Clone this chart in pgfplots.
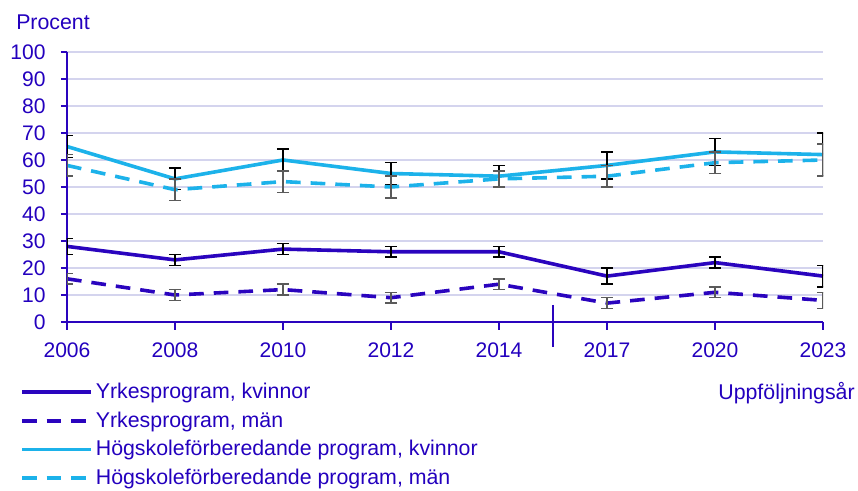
\documentclass[border=0pt]{standalone}
\usepackage{pgfplots}
\pgfplotsset{compat=1.18}
\usepackage{pgfplotstable}
\usepackage{fontspec}
\setmainfont{Liberation Sans}
\definecolor{txt}{HTML}{2300BE}
\definecolor{dblue}{HTML}{2A04BE}
\definecolor{lblue}{HTML}{1CB2EA}
\definecolor{gridc}{HTML}{D4D4EE}
\definecolor{ebgray}{HTML}{5A5A5A}

\pgfplotstableread{
x y e
0 28 3
1 23 2
2 27 2
3 26 2
4 26 2
5 17 3
6 22 2
7 17 4
}\yk
\pgfplotstableread{
x y e
0 16 2
1 10 2
2 12 2
3 9 2
4 14 2
5 7 2
6 11 2
7 8 3
}\ym
\pgfplotstableread{
x y e
0 65 4
1 53 4
2 60 4
3 55 4
4 54 4
5 58 5
6 63 5
7 62 8
}\hk
\pgfplotstableread{
x y e
0 58 4
1 49 4
2 52 4
3 50 4
4 53 3
5 54 4
6 59 4
7 60 6
}\hm

\begin{document}
\fontsize{16}{19}\selectfont
\begin{tikzpicture}
\path[use as bounding box] (-50.25pt,-126.75pt) rectangle (593.25pt,241.5pt);
\begin{axis}[
  scale only axis,
  width=567pt, height=202.5pt,
  xmin=0, xmax=7, ymin=0, ymax=100,
  xtick={0,...,7},
  xticklabels={2006,2008,2010,2012,2014,2017,2020,2023},
  ytick={0,10,...,100},
  axis x line=bottom, axis y line=left,
  axis line style={-, draw=dblue, line width=1.1pt},
  tick align=outside,
  major tick length=4.5pt,
  tick style={draw=dblue, line width=1.1pt},
  xtick style={/pgfplots/major tick length=6pt},
  ymajorgrids,
  major grid style={draw=gridc, line width=1.1pt},
  ticklabel style={font=\fontsize{15.8}{18}\selectfont, text=txt},
  yticklabel style={xshift=-6pt},
  xticklabel style={yshift=-5.5pt},
  /pgf/number format/assume math mode=true,
  legend style={at={(0,0)}, anchor=north west, xshift=-35.25pt, yshift=-43.5pt,
    draw=none, fill=none, font=\fontsize{16}{19}\selectfont, text=txt,
    row sep=3.5pt, cells={anchor=west}, inner sep=0pt},
  legend image code/.code={\draw[#1] (0pt,0pt) -- (52pt,0pt);},
  legend cell align=left,
]
\addplot[dblue, line width=2.7pt,
  error bars/.cd, y dir=both, y explicit,
  error bar style={black, line width=1.1pt, solid},
  error mark options={rotate=90, black, mark size=4.5pt, line width=1.1pt, solid}]
  table[x=x, y=y, y error=e] {\yk};
\addlegendentry{Yrkesprogram, kvinnor}
\addplot[dblue, line width=2.7pt, dash pattern=on 11pt off 7.5pt,
  error bars/.cd, y dir=both, y explicit,
  error bar style={ebgray, line width=1.1pt, solid},
  error mark options={rotate=90, ebgray, mark size=4.5pt, line width=1.1pt, solid}]
  table[x=x, y=y, y error=e] {\ym};
\addlegendentry{Yrkesprogram, män}
\addplot[lblue, line width=2.7pt,
  error bars/.cd, y dir=both, y explicit,
  error bar style={black, line width=1.1pt, solid},
  error mark options={rotate=90, black, mark size=4.5pt, line width=1.1pt, solid}]
  table[x=x, y=y, y error=e] {\hk};
\addlegendentry{Högskoleförberedande program, kvinnor}
\addplot[lblue, line width=2.7pt, dash pattern=on 11pt off 7.5pt,
  error bars/.cd, y dir=both, y explicit,
  error bar style={ebgray, line width=1.1pt, solid},
  error mark options={rotate=90, ebgray, mark size=4.5pt, line width=1.1pt, solid}]
  table[x=x, y=y, y error=e] {\hm};
\addlegendentry{Högskoleförberedande program, män}
\coordinate (bt) at (axis cs:4.5,6.3);
\coordinate (bb) at (axis cs:4.5,-9.3);
\end{axis}
\draw[dblue, line width=1.5pt] (bt) -- (bb);
\node[anchor=base west, text=txt, inner sep=0pt] at (-38.25pt,219pt) {Procent};
\node[anchor=base east, text=txt, inner sep=0pt] at (591pt,-58.5pt) {Uppföljningsår};
\end{tikzpicture}
\end{document}
